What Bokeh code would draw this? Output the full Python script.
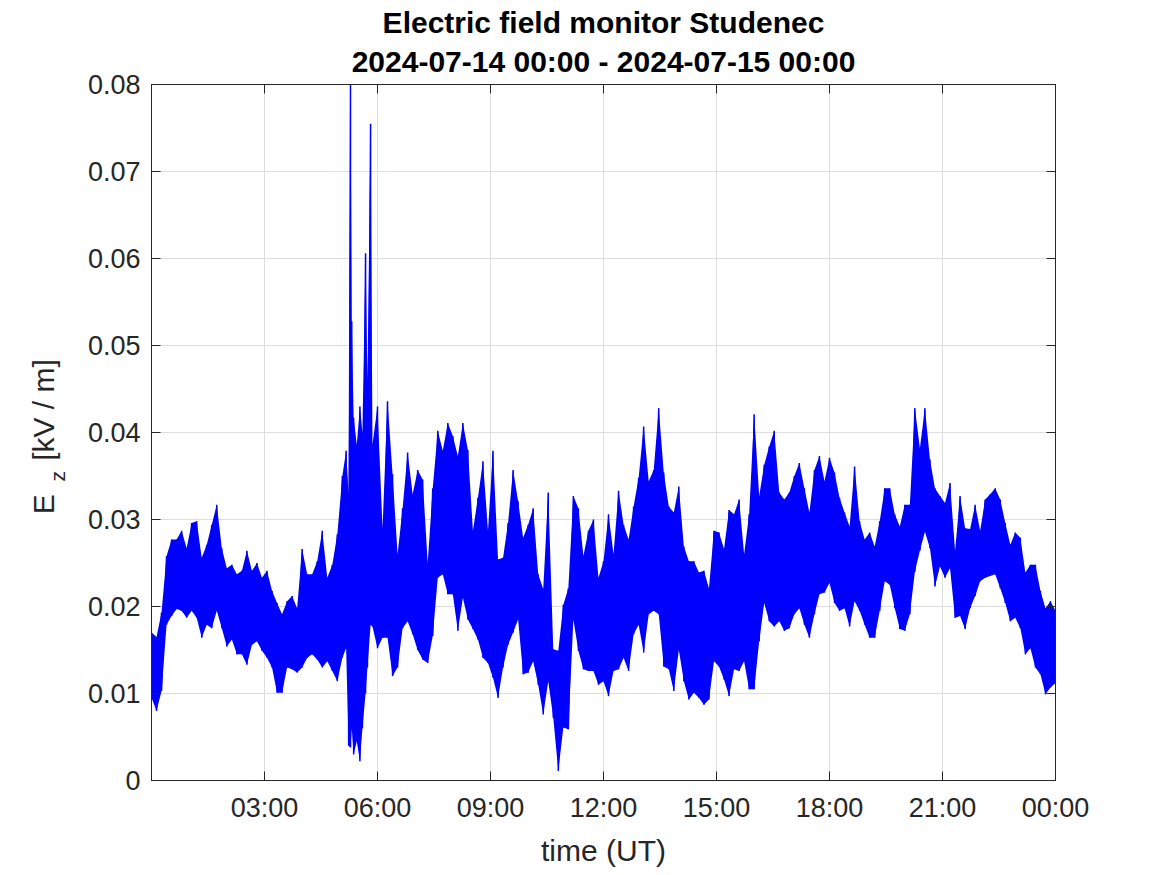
import numpy as np
from bokeh.plotting import figure
from bokeh.models import FixedTicker, LinearAxis, Range1d, Title
from bokeh.embed import file_html
from bokeh.resources import INLINE

# time of each reading (minutes after 2024-07-14 00:00 UT)
t_min = [0, 8, 16, 24, 32, 40, 48, 56, 64, 72, 80, 88, 96, 104, 112, 120, 128, 136, 144, 152,
         160, 168, 176, 184, 192, 200, 208, 216, 224, 232, 240, 248, 256, 264, 272, 280, 288, 296,
         304, 310, 314, 317, 319, 322, 327, 332, 336, 341, 344, 349, 352, 360, 368, 376, 384, 392,
         400, 408, 416, 424, 432, 440, 448, 456, 464, 472, 480, 488, 496, 504, 512, 520, 528, 536,
         544, 552, 560, 568, 576, 584, 592, 600, 608, 616, 624, 632, 640, 648, 656, 664, 672, 680,
         688, 696, 704, 712, 720, 728, 736, 744, 752, 760, 768, 776, 784, 792, 800, 808, 816, 824,
         832, 840, 848, 856, 864, 872, 880, 888, 896, 904, 912, 920, 928, 936, 944, 952, 960, 968,
         976, 984, 992, 1000, 1008, 1016, 1024, 1032, 1040, 1048, 1056, 1064, 1072, 1080, 1088,
         1096, 1104, 1112, 1120, 1128, 1136, 1144, 1152, 1160, 1168, 1176, 1184, 1192, 1200, 1208,
         1216, 1224, 1232, 1240, 1248, 1256, 1264, 1272, 1280, 1288, 1296, 1304, 1312, 1320, 1328,
         1336, 1344, 1352, 1360, 1368, 1376, 1384, 1392, 1400, 1408, 1416, 1424, 1432, 1440]

# local maximum of Ez around each reading [kV/m]
ez_hi = [0.0170, 0.0165, 0.0193, 0.0258, 0.0277, 0.0277, 0.0287, 0.0267, 0.0296, 0.0298,
         0.0256, 0.0271, 0.0294, 0.0317, 0.0267, 0.0244, 0.0248, 0.0237, 0.0241, 0.0264,
         0.0241, 0.0250, 0.0233, 0.0241, 0.0218, 0.0204, 0.0191, 0.0206, 0.0212, 0.0198,
         0.0266, 0.0237, 0.0237, 0.0252, 0.0287, 0.0233, 0.0248, 0.0283,
         0.0350, 0.0379, 0.0330, 0.0800, 0.0528, 0.0417, 0.0386, 0.0430, 0.0400, 0.0606,
         0.0460, 0.0755, 0.0386, 0.0430, 0.0290, 0.0436, 0.0352, 0.0260,
         0.0313, 0.0377, 0.0329, 0.0357, 0.0346, 0.0250, 0.0336, 0.0402, 0.0379, 0.0411,
         0.0396, 0.0373, 0.0411, 0.0380, 0.0287, 0.0325, 0.0367, 0.0287,
         0.0379, 0.0254, 0.0256, 0.0296, 0.0357, 0.0321, 0.0279, 0.0294, 0.0313, 0.0237,
         0.0220, 0.0331, 0.0151, 0.0149, 0.0202, 0.0221, 0.0327, 0.0313,
         0.0258, 0.0287, 0.0300, 0.0233, 0.0252, 0.0306, 0.0260, 0.0333, 0.0294, 0.0277,
         0.0315, 0.0348, 0.0407, 0.0344, 0.0357, 0.0428, 0.0354, 0.0315,
         0.0308, 0.0338, 0.0269, 0.0252, 0.0252, 0.0239, 0.0241, 0.0221, 0.0287, 0.0285,
         0.0266, 0.0311, 0.0306, 0.0323, 0.0260, 0.0306, 0.0421, 0.0327,
         0.0363, 0.0384, 0.0402, 0.0331, 0.0323, 0.0331, 0.0350, 0.0365, 0.0336, 0.0308,
         0.0357, 0.0373, 0.0344, 0.0371, 0.0354,
         0.0325, 0.0308, 0.0292, 0.0361, 0.0298, 0.0277, 0.0285, 0.0269, 0.0298, 0.0336,
         0.0336, 0.0306, 0.0292, 0.0317, 0.0317,
         0.0428, 0.0382, 0.0428, 0.0369, 0.0336, 0.0327, 0.0319, 0.0342, 0.0264, 0.0327,
         0.0290, 0.0289, 0.0317, 0.0287, 0.0323,
         0.0329, 0.0336, 0.0323, 0.0296, 0.0271, 0.0285, 0.0279, 0.0239, 0.0248, 0.0248,
         0.0218, 0.0198, 0.0206, 0.0195]

# local minimum of Ez around each reading [kV/m]
ez_lo = [0.0095, 0.0080, 0.0103, 0.0179, 0.0189, 0.0197, 0.0195, 0.0187, 0.0195, 0.0187,
         0.0164, 0.0179, 0.0175, 0.0195, 0.0175, 0.0154, 0.0162, 0.0145, 0.0145, 0.0133,
         0.0156, 0.0160, 0.0149, 0.0141, 0.0130, 0.0101, 0.0101, 0.0130, 0.0128, 0.0124,
         0.0130, 0.0141, 0.0145, 0.0139, 0.0130, 0.0137, 0.0126, 0.0114,
         0.0141, 0.0152, 0.0040, 0.0038, 0.0060, 0.0030, 0.0045, 0.0022, 0.0060, 0.0100,
         0.0130, 0.0179, 0.0177, 0.0152, 0.0164, 0.0164, 0.0120, 0.0130,
         0.0175, 0.0183, 0.0168, 0.0150, 0.0139, 0.0135, 0.0166, 0.0233, 0.0237, 0.0214,
         0.0214, 0.0172, 0.0210, 0.0185, 0.0174, 0.0162, 0.0141, 0.0135,
         0.0118, 0.0095, 0.0130, 0.0156, 0.0170, 0.0185, 0.0122, 0.0124, 0.0137, 0.0110,
         0.0076, 0.0114, 0.0072, 0.0011, 0.0061, 0.0059, 0.0185, 0.0149,
         0.0128, 0.0126, 0.0126, 0.0110, 0.0114, 0.0097, 0.0126, 0.0128, 0.0141, 0.0126,
         0.0168, 0.0179, 0.0147, 0.0191, 0.0195, 0.0191, 0.0131, 0.0128,
         0.0103, 0.0150, 0.0114, 0.0093, 0.0101, 0.0095, 0.0087, 0.0093, 0.0137, 0.0131,
         0.0116, 0.0097, 0.0128, 0.0126, 0.0137, 0.0105, 0.0105, 0.0160,
         0.0204, 0.0183, 0.0177, 0.0183, 0.0172, 0.0175, 0.0191, 0.0198, 0.0179, 0.0164,
         0.0191, 0.0214, 0.0216, 0.0227, 0.0204,
         0.0195, 0.0198, 0.0177, 0.0206, 0.0195, 0.0179, 0.0164, 0.0164, 0.0195, 0.0229,
         0.0225, 0.0198, 0.0174, 0.0172, 0.0191,
         0.0240, 0.0264, 0.0286, 0.0267, 0.0223, 0.0246, 0.0233, 0.0244, 0.0187, 0.0189,
         0.0174, 0.0198, 0.0212, 0.0229, 0.0233,
         0.0235, 0.0237, 0.0221, 0.0204, 0.0183, 0.0187, 0.0175, 0.0145, 0.0152, 0.0130,
         0.0122, 0.0099, 0.0107, 0.0112]

x_ticks = [3, 6, 9, 12, 15, 18, 21, 24]
x_tick_labels = ["03:00", "06:00", "09:00", "12:00", "15:00", "18:00", "21:00", "00:00"]
y_ticks = [0, 0.01, 0.02, 0.03, 0.04, 0.05, 0.06, 0.07, 0.08]
y_tick_labels = ["0", "0.01", "0.02", "0.03", "0.04", "0.05", "0.06", "0.07", "0.08"]

title_1 = "Electric field monitor Studenec"
title_2 = "2024-07-14 00:00 - 2024-07-15 00:00"
x_label = "time (UT)"
y_label_main = "E"
y_label_sub = "z"
y_label_unit = "[kV / m]"

hours = np.array(t_min, dtype=float) / 60.0
hi = np.array(ez_hi)
lo = np.array(ez_lo)
zig_x = np.repeat(hours, 2)
zig_y = np.empty(2 * len(hours))
zig_y[0::2] = hi
zig_y[1::2] = lo

FONT = "Liberation Sans"
TXT = "#262626"
NB = "\u00a0"

p = figure(frame_width=904, frame_height=696,
           x_range=Range1d(0, 24), y_range=Range1d(0, 0.08),
           output_backend="svg", toolbar_location=None,
           min_border_left=151, min_border_right=112,
           min_border_top=84, min_border_bottom=95,
           background_fill_color="white", border_fill_color="white")
p.title = None

p.outline_line_color = TXT
p.outline_line_width = 1

p.varea(x=hours, y1=lo, y2=hi, fill_color="#0000ff", fill_alpha=1.0)
p.line(zig_x, zig_y, line_color="#0000ff", line_width=1.5)

xa = p.xaxis[0]
xa.ticker = FixedTicker(ticks=x_ticks)
xa.major_label_overrides = dict(zip(x_ticks, x_tick_labels))
ya = p.yaxis[0]
ya.ticker = FixedTicker(ticks=y_ticks)
ya.major_label_overrides = dict(zip(y_ticks, y_tick_labels))

ra = LinearAxis(ticker=FixedTicker(ticks=y_ticks))
ta = LinearAxis(ticker=FixedTicker(ticks=x_ticks))

for ax in (xa, ya, ra, ta):
    ax.major_tick_in = 9
    ax.major_tick_out = 0
    ax.minor_tick_in = 0
    ax.minor_tick_out = 0
    ax.minor_tick_line_color = None
    ax.axis_line_color = TXT
    ax.major_tick_line_color = TXT
    ax.major_label_text_font = FONT

for ax in (xa, ya):
    ax.major_label_text_font_size = "27px"
    ax.major_label_text_color = TXT

# mirrored axes: ticks only, labels not drawn
for ax in (ra, ta):
    ax.major_label_text_font_size = "1px"
    ax.major_label_text_color = None
    ax.major_label_standoff = 0
p.add_layout(ra, "right")
p.add_layout(ta, "above")

xa.major_label_standoff = 12
ya.major_label_standoff = 11

xa.axis_label = x_label
xa.axis_label_text_font = FONT
xa.axis_label_text_font_size = "30px"
xa.axis_label_text_font_style = "normal"
xa.axis_label_text_color = TXT
xa.axis_label_standoff = 8

# subscript "z" of the y label, drawn as the y axis' own label
ya.axis_label = y_label_sub + NB * 15
ya.axis_label_text_font = FONT
ya.axis_label_text_font_size = "21px"
ya.axis_label_text_font_style = "normal"
ya.axis_label_text_color = TXT
ya.axis_label_standoff = 16

# "E  [kV / m]" part of the y label
p.add_layout(Title(text=y_label_main + NB * 4 + y_label_unit + NB, align="center",
                   vertical_align="bottom", standoff=-35, text_font=FONT,
                   text_font_size="30px", text_font_style="normal", text_color=TXT), "left")

# two-line bold title
p.add_layout(Title(text=title_2, align="center", standoff=13, text_font=FONT,
                   text_font_size="30px", text_font_style="bold", text_color="black"), "above")
p.add_layout(Title(text=title_1, align="center", standoff=-4, text_font=FONT,
                   text_font_size="30px", text_font_style="bold", text_color="black"), "above")

p.xgrid.grid_line_color = "#dedede"
p.ygrid.grid_line_color = "#dedede"

open("out.html", "w").write(file_html(p, INLINE))
